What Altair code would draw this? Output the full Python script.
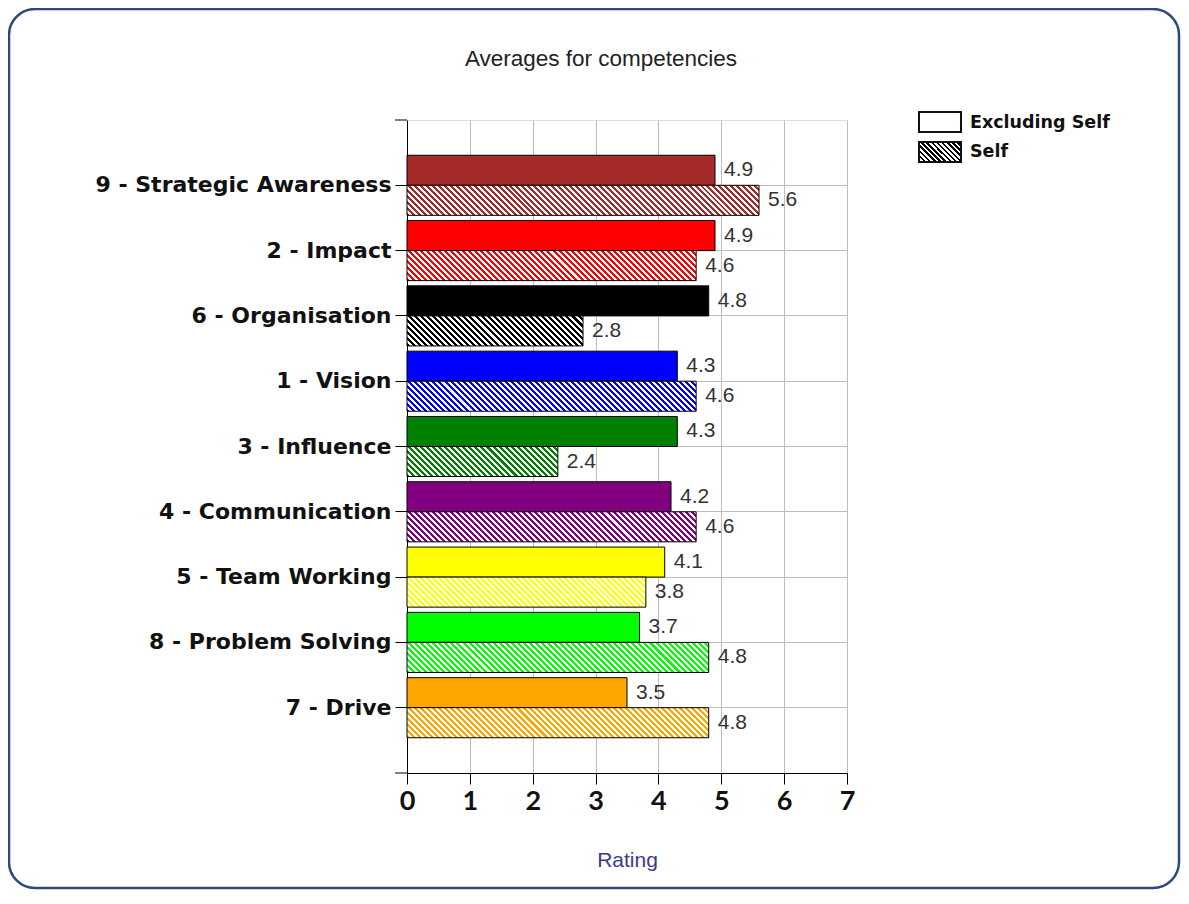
import altair as alt
import pandas as pd

# ---- data ----
competencies = ["9 - Strategic Awareness", "2 - Impact", "6 - Organisation", "1 - Vision",
                "3 - Influence", "4 - Communication", "5 - Team Working",
                "8 - Problem Solving", "7 - Drive"]
excluding_self = [4.9, 4.9, 4.8, 4.3, 4.3, 4.2, 4.1, 3.7, 3.5]
self_scores = [5.6, 4.6, 2.8, 4.6, 2.4, 4.6, 3.8, 4.8, 4.8]
bar_colors = ["#a52a2a", "#ff0000", "#000000", "#0000ff", "#008000",
              "#800080", "#ffff00", "#00ff00", "#ffa500"]
series = ["Excluding Self", "Self"]
x_ticks = [0, 1, 2, 3, 4, 5, 6, 7]
chart_title = "Averages for competencies"
x_title = "Rating"

# ---- layout ----
PLOT_W, PLOT_H = 440, 653
X_MAX = 7
PAD_IN, PAD_OUT = 0.08, 0.54
STEP = PLOT_H / (len(competencies) - PAD_IN + 2 * PAD_OUT)
BAR_H = STEP * (1 - PAD_IN) / 2


def hatch(color, w, h, period=6.0):
    """Diagonal stripe fill built from a linear gradient with hard stops."""
    r = h / w
    a = (w + h) / (w * (1 + r * r))
    n = max(1, round((w + h) / period))
    stops = []
    for i in range(n):
        o0, o1, o2 = i / n, (i + 0.5) / n, (i + 1) / n
        stops += [{"offset": o0, "color": color}, {"offset": o1, "color": color},
                  {"offset": o1, "color": "#ffffff"}, {"offset": o2, "color": "#ffffff"}]
    return {"gradient": "linear", "x1": 0, "y1": 1, "x2": a, "y2": 1 - a * r, "stops": stops}


df = pd.DataFrame({
    "competency": competencies * 2,
    "series": [series[0]] * len(competencies) + [series[1]] * len(competencies),
    "value": excluding_self + self_scores,
})

conds = []
for c, col, vs in zip(competencies, bar_colors, self_scores):
    conds.append({"test": f"datum.series == '{series[0]}' && datum.competency == '{c}'", "value": col})
    conds.append({"test": f"datum.series == '{series[1]}' && datum.competency == '{c}'",
                  "value": hatch(col, vs * PLOT_W / X_MAX, BAR_H)})
fill_enc = {"condition": conds, "value": "#ffffff"}

x_enc = alt.X("value:Q", scale=alt.Scale(domain=[0, X_MAX], nice=False),
              axis=alt.Axis(values=x_ticks, format="d", title=x_title,
                            titleFont="Liberation Sans", titleFontSize=21, titleFontWeight="normal",
                            titleColor="#3a3a90", titleY=87, titleBaseline="middle",
                            labelFont="Lato", labelFontWeight="bold", labelFontSize=27,
                            labelColor="#111111", labelPadding=4, labelFlush=False,
                            tickSize=11, tickColor="#000000", domainColor="#000000",
                            grid=True, gridColor="#bdbdbd"))
y_enc = alt.Y("competency:N", sort=competencies,
              scale=alt.Scale(paddingInner=PAD_IN, paddingOuter=PAD_OUT),
              axis=alt.Axis(title=None, labelFont="DejaVu Sans", labelFontWeight="bold",
                            labelFontSize=22, labelColor="#111111", labelPadding=4,
                            labelLimit=400, tickSize=12, tickColor="#000000",
                            domainColor="#000000", bandPosition=0.5,
                            grid=True, gridColor="#bdbdbd"))
yoff = alt.YOffset("series:N", sort=series,
                   scale=alt.Scale(domain=series, paddingInner=0, paddingOuter=0))

bars = alt.Chart(df).mark_bar(stroke="#000000", strokeWidth=1).encode(
    x=x_enc, y=y_enc, yOffset=yoff, fill=fill_enc)

labels = alt.Chart(df).mark_text(align="left", baseline="middle", dx=9,
                                 font="Liberation Sans", fontSize=21, color="#333333").encode(
    x=x_enc, y=y_enc, yOffset=yoff, text=alt.Text("value:Q", format=".1f"))

one = pd.DataFrame({"k": [0]})

frame = alt.Chart(one).mark_rect(fill="#ffffff", fillOpacity=0, stroke="#2d4a7c",
                                 strokeWidth=2.5, cornerRadius=26).encode(
    x=alt.value(-398), x2=alt.value(772), y=alt.value(-111), y2=alt.value(768))

# end ticks of the category axis (top and bottom of the plot)
end_tick_top = alt.Chart(one).mark_rule(color="#000000", strokeWidth=1).encode(
    x=alt.value(-12), x2=alt.value(0), y=alt.value(0))
end_tick_bottom = alt.Chart(one).mark_rule(color="#000000", strokeWidth=1).encode(
    x=alt.value(-12), x2=alt.value(0), y=alt.value("height"))

title_txt = alt.Chart(one).mark_text(text=chart_title, align="center", baseline="alphabetic",
                                     font="Liberation Sans", fontSize=22.5,
                                     color="#222222").encode(x=alt.value(194), y=alt.value(-54))

leg_box1 = alt.Chart(one).mark_rect(fill="#ffffff", stroke="#111111", strokeWidth=2).encode(
    x=alt.value(512), x2=alt.value(554), y=alt.value(-8), y2=alt.value(12))
leg_box2 = alt.Chart(one).mark_rect(fill=hatch("#000000", 42, 20, 5.0), stroke="#111111",
                                    strokeWidth=2).encode(
    x=alt.value(512), x2=alt.value(554), y=alt.value(22), y2=alt.value(42))
leg_txt1 = alt.Chart(one).mark_text(text=series[0], align="left", baseline="middle",
                                    font="DejaVu Sans", fontWeight="bold", fontSize=17.5,
                                    color="#111111").encode(x=alt.value(563), y=alt.value(3))
leg_txt2 = alt.Chart(one).mark_text(text=series[1], align="left", baseline="middle",
                                    font="DejaVu Sans", fontWeight="bold", fontSize=17.5,
                                    color="#111111").encode(x=alt.value(563), y=alt.value(32))

chart = alt.layer(frame, bars, labels, end_tick_top, end_tick_bottom, title_txt,
                  leg_box1, leg_box2, leg_txt1, leg_txt2).properties(
    width=PLOT_W, height=PLOT_H,
    autosize=alt.AutoSizeParams(type="none"),
    padding={"left": 399, "top": 112, "right": 334, "bottom": 117},
).configure_view(fill="#ececec", stroke="#bdbdbd").configure(background="#ffffff")

chart.save("out.html", embed_options={"renderer": "svg", "actions": False})
